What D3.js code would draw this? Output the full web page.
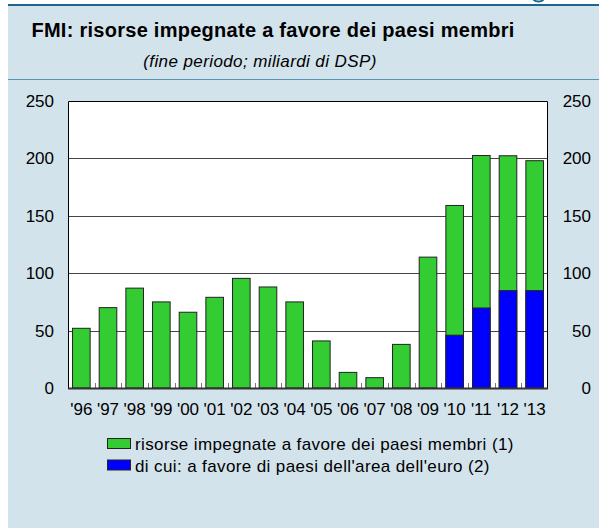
<!DOCTYPE html>
<html>
<head>
<meta charset="utf-8">
<script src="https://cdn.jsdelivr.net/npm/d3@7"></script>
<style>
  body { margin: 0; background: #fff; }
  svg { display: block; font-family: "Liberation Sans", Arial, Helvetica, sans-serif; }
</style>
</head>
<body>
<script>
// dati (miliardi di DSP, fine periodo)
var years = ["'96","'97","'98","'99","'00","'01","'02","'03","'04","'05","'06","'07","'08","'09","'10","'11","'12","'13"];
var totale = [52, 70, 87, 75, 66, 79, 95.5, 88, 75, 41, 13.6, 9, 38, 114, 159, 202.5, 202.3, 198];
var areaEuro = [0, 0, 0, 0, 0, 0, 0, 0, 0, 0, 0, 0, 0, 0, 46, 69.7, 84.8, 84.8];
var yTicks = [0, 50, 100, 150, 200, 250];
var legendLabels = ["risorse impegnate a favore dei paesi membri (1)", "di cui: a favore di paesi dell'area dell'euro (2)"];

var W = 599, H = 528;
var margin = {top: 101, right: 51, bottom: 139, left: 68},
    width = W - margin.left - margin.right,
    height = 388 - margin.top;

var svg = d3.select("body")
  .append("svg")
    .attr("width", W)
    .attr("height", H);

// pannello
svg.append("rect")
    .attr("x", 8).attr("y", 5)
    .attr("width", W - 8).attr("height", H - 5)
    .attr("fill", "#d3e3ec");
svg.append("rect")
    .attr("x", 8).attr("y", 4)
    .attr("width", W - 8).attr("height", 2)
    .attr("fill", "#1b6690");
svg.append("rect")
    .attr("x", 8).attr("y", 79)
    .attr("width", W - 8).attr("height", 1)
    .attr("fill", "#5b93b5");
// coda della lettera tagliata in alto a destra
svg.append("path")
    .attr("d", "M533.5,0 Q538.5,3.2 543.5,0")
    .attr("fill", "none")
    .attr("stroke", "#1b6690")
    .attr("stroke-width", 2);

svg.append("text")
    .attr("x", 273).attr("y", 37)
    .attr("text-anchor", "middle")
    .style("font-size", "20px")
    .style("font-weight", "bold")
    .style("letter-spacing", "0.27px")
    .attr("fill", "#000")
    .text("FMI: risorse impegnate a favore dei paesi membri");

svg.append("text")
    .attr("x", 260).attr("y", 67)
    .attr("text-anchor", "middle")
    .style("font-size", "17px")
    .style("font-style", "italic")
    .style("letter-spacing", "0.4px")
    .attr("fill", "#000")
    .text("(fine periodo; miliardi di DSP)");

var g = svg.append("g")
    .attr("transform", "translate(" + margin.left + "," + margin.top + ")");

var x = d3.scaleBand()
    .domain(years)
    .range([0, width])
    .paddingInner(0.34)
    .paddingOuter(0.17);

var y = d3.scaleLinear()
    .domain([0, 250])
    .range([height, 0]);

g.append("rect")
    .attr("width", width)
    .attr("height", height)
    .attr("fill", "#fff");

// griglia
g.selectAll(".grid")
    .data(yTicks.slice(1, -1))
    .enter()
    .append("line")
      .attr("x1", 0).attr("x2", width)
      .attr("y1", function(d) { return Math.round(y(d)) + 0.5; })
      .attr("y2", function(d) { return Math.round(y(d)) + 0.5; })
      .attr("stroke", "#444")
      .attr("stroke-width", 1);

// barre
g.selectAll(".tot")
    .data(totale)
    .enter()
    .append("rect")
      .attr("x", function(d, i) { return x(years[i]); })
      .attr("y", function(d) { return y(d); })
      .attr("width", x.bandwidth())
      .attr("height", function(d) { return height - y(d); })
      .attr("fill", "#33cc33")
      .attr("stroke", "#222")
      .attr("stroke-width", 1);

g.selectAll(".euro")
    .data(areaEuro)
    .enter()
    .filter(function(d) { return d > 0; })
    .append("rect")
      .attr("x", function(d, i) { return x(years[i + 14]); })
      .attr("y", function(d) { return y(d); })
      .attr("width", x.bandwidth())
      .attr("height", function(d) { return height - y(d); })
      .attr("fill", "#0000ff")
      .attr("stroke", "#222")
      .attr("stroke-width", 1);

// tacche
var step = x.step();
g.selectAll(".tick-x")
    .data(years.slice(1))
    .enter()
    .append("line")
      .attr("x1", function(d, i) { return Math.round((i + 1) * step) + 0.5; })
      .attr("x2", function(d, i) { return Math.round((i + 1) * step) + 0.5; })
      .attr("y1", height - 5)
      .attr("y2", height)
      .attr("stroke", "#777");

// cornice
g.append("path")
    .attr("d", "M0.5," + height + "V0.5H" + (width - 0.5) + "V" + height)
    .attr("fill", "none")
    .attr("stroke", "#000")
    .attr("stroke-width", 1);
g.append("line")
    .attr("x1", 0).attr("x2", width)
    .attr("y1", height + 0.5).attr("y2", height + 0.5)
    .attr("stroke", "#333")
    .attr("stroke-width", 2);

// etichette assi
g.selectAll(".ylab-l")
    .data(yTicks)
    .enter()
    .append("text")
      .attr("x", -14)
      .attr("y", function(d) { return y(d) + 6; })
      .attr("text-anchor", "end")
      .style("font-size", "17px")
      .text(function(d) { return d; });

g.selectAll(".ylab-r")
    .data(yTicks)
    .enter()
    .append("text")
      .attr("x", width + 43)
      .attr("y", function(d) { return y(d) + 6; })
      .attr("text-anchor", "end")
      .style("font-size", "17px")
      .text(function(d) { return d; });

g.selectAll(".xlab")
    .data(years)
    .enter()
    .append("text")
      .attr("x", function(d) { return x(d) + x.bandwidth() / 2; })
      .attr("y", height + 27)
      .attr("text-anchor", "middle")
      .style("font-size", "17px")
      .text(function(d) { return d; });

// legenda
var colors = ["#33cc33", "#0000ff"];
svg.selectAll(".leg-box")
    .data(legendLabels)
    .enter()
    .append("rect")
      .attr("x", 107.5)
      .attr("y", function(d, i) { return 438.5 + i * 21.5; })
      .attr("width", 23)
      .attr("height", 10)
      .attr("fill", function(d, i) { return colors[i]; })
      .attr("stroke", "#222");

svg.selectAll(".leg-text")
    .data(legendLabels)
    .enter()
    .append("text")
      .attr("x", 135)
      .attr("y", function(d, i) { return 450 + i * 21.5; })
      .style("font-size", "17px")
      .style("letter-spacing", "0.38px")
      .text(function(d) { return d; });
</script>
</body>
</html>
